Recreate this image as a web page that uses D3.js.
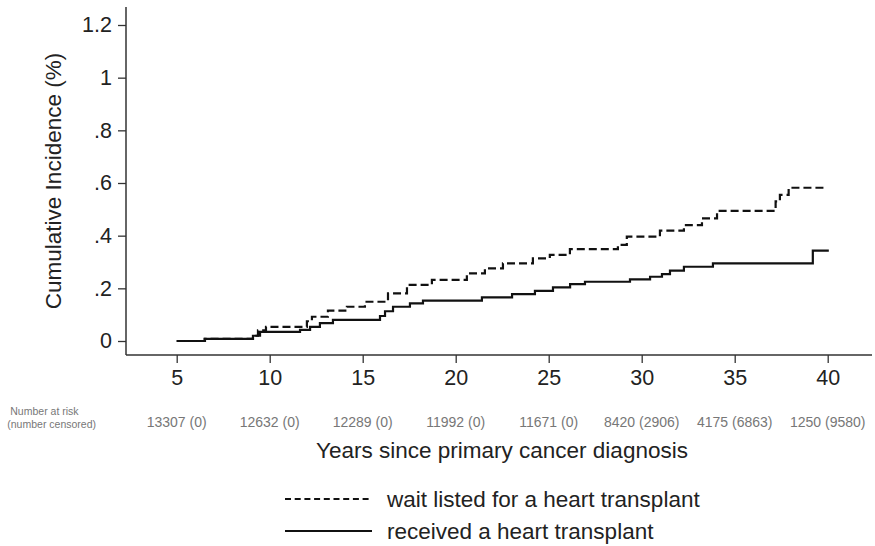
<!DOCTYPE html>
<html>
<head>
<meta charset="utf-8">
<script src="https://cdn.jsdelivr.net/npm/d3@7.9.0/dist/d3.min.js"></script>
<style>
  body { margin: 0; background: #fff; }
  svg { font-family: "Liberation Sans", Arial, sans-serif; display: block; }
</style>
</head>
<body>
<svg id="chart" width="875" height="546"></svg>
<script>
// step curves (years since diagnosis, cumulative incidence %)
const waitYears = [5, 6.5, 9.1, 9.37, 9.8, 12.0, 12.27, 13.13, 14.15, 15.12, 16.36, 17.38, 18.72, 20.6, 21.57, 22.54, 24.15, 25.06, 26.14, 28.72, 29.2, 30.98, 32.27, 33.24, 34.05, 37.2, 37.43, 37.9, 39.95];
const waitValues = [0, 0.008, 0.02, 0.04, 0.054, 0.075, 0.092, 0.115, 0.13, 0.149, 0.181, 0.213, 0.232, 0.257, 0.276, 0.295, 0.314, 0.327, 0.349, 0.365, 0.396, 0.419, 0.44, 0.466, 0.494, 0.53, 0.555, 0.582, 0.582];

const recvYears = [5, 6.52, 9.1, 9.48, 11.63, 12.17, 12.7, 13.4, 15.93, 16.2, 16.63, 17.54, 18.24, 21.41, 23.03, 24.26, 25.23, 26.15, 26.95, 29.37, 30.45, 31.09, 31.52, 32.27, 33.83, 39.2, 40.06];
const recvValues = [0, 0.008, 0.02, 0.035, 0.042, 0.054, 0.068, 0.08, 0.095, 0.113, 0.13, 0.143, 0.153, 0.166, 0.178, 0.19, 0.204, 0.216, 0.225, 0.234, 0.244, 0.254, 0.267, 0.282, 0.295, 0.343, 0.343];

// number at risk table
const riskYears = [5, 10, 15, 20, 25, 30, 35, 40];
const atRisk = [13307, 12632, 12289, 11992, 11671, 8420, 4175, 1250];
const censored = [0, 0, 0, 0, 0, 2906, 6863, 9580];

const xTicks = [5, 10, 15, 20, 25, 30, 35, 40];
const yTicks = [0, 0.2, 0.4, 0.6, 0.8, 1, 1.2];

const seriesNames = ["wait listed for a heart transplant", "received a heart transplant"];

const svg = d3.select("#chart");

const x = d3.scaleLinear().domain([5, 40]).range([176.7, 827.7]);
const y = d3.scaleLinear().domain([0, 1.2]).range([341, 25]);

const axisLeftX = 126, axisBottomY = 355;
const ink = "#333";

// y axis
const yAxis = svg.append("g")
    .attr("transform", `translate(${axisLeftX},0)`)
    .call(d3.axisLeft(y).tickValues(yTicks).tickSize(8).tickPadding(6)
        .tickFormat(d => d === 0 ? "0" : d === 1 ? "1" : d3.format(".1f")(d).replace(/^0/, "")));
yAxis.select(".domain").remove();
yAxis.selectAll("line").attr("stroke", ink).attr("stroke-width", 1.3);
yAxis.selectAll("text").attr("font-size", 21.5).attr("fill", "#222").attr("font-family", null);

// x axis
const xAxis = svg.append("g")
    .attr("transform", `translate(0,${axisBottomY})`)
    .call(d3.axisBottom(x).tickValues(xTicks).tickSize(8).tickPadding(7));
xAxis.select(".domain").remove();
xAxis.selectAll("line").attr("stroke", ink).attr("stroke-width", 1.3);
xAxis.selectAll("text").attr("font-size", 21.5).attr("fill", "#222").attr("font-family", null);

// axis lines
svg.append("line")
    .attr("x1", axisLeftX).attr("x2", axisLeftX)
    .attr("y1", 7).attr("y2", axisBottomY)
    .attr("stroke", ink).attr("stroke-width", 1.5);
svg.append("line")
    .attr("x1", axisLeftX).attr("x2", 872)
    .attr("y1", axisBottomY).attr("y2", axisBottomY)
    .attr("stroke", ink).attr("stroke-width", 1.5);

// curves
const line = d3.line()
    .x(d => x(d[0]))
    .y(d => y(d[1]))
    .curve(d3.curveStepAfter);

svg.append("path")
    .datum(d3.zip(recvYears, recvValues))
    .attr("d", line)
    .attr("fill", "none")
    .attr("stroke", "#111")
    .attr("stroke-width", 2.2);

svg.append("path")
    .datum(d3.zip(waitYears, waitValues))
    .attr("d", line)
    .attr("fill", "none")
    .attr("stroke", "#111")
    .attr("stroke-width", 2.2)
    .attr("stroke-dasharray", "8,4");

// y title
svg.append("text")
    .attr("transform", "translate(61,181) rotate(-90)")
    .attr("text-anchor", "middle")
    .attr("font-size", 22.5)
    .attr("fill", "#222")
    .text("Cumulative Incidence (%)");

// number at risk row
svg.append("g").selectAll("text")
    .data(riskYears)
    .join("text")
    .attr("x", d => x(d))
    .attr("y", 427)
    .attr("text-anchor", "middle")
    .attr("font-size", 14)
    .attr("fill", "#777")
    .text((d, i) => `${atRisk[i]} (${censored[i]})`);

// row label: kept inside the page, right edge where the reference puts it
const riskLabel = svg.append("g").attr("font-size", 10.5).attr("fill", "#777");
const l2 = riskLabel.append("text").attr("y", 428).text("(number censored)");
const w2 = l2.node().getComputedTextLength();
const labelX = Math.max(2, 96 - w2);
l2.attr("x", labelX);
riskLabel.append("text").attr("x", labelX + 3).attr("y", 415).text("Number at risk");

// x title
svg.append("text")
    .attr("x", 502)
    .attr("y", 458)
    .attr("text-anchor", "middle")
    .attr("font-size", 22.5)
    .attr("fill", "#222")
    .text("Years since primary cancer diagnosis");

// legend
const legend = svg.append("g");
const legendRows = [
    { name: seriesNames[0], dash: "6,3.7", y: 499 },
    { name: seriesNames[1], dash: null, y: 531 }
];
legendRows.forEach(r => {
    legend.append("line")
        .attr("x1", 285).attr("x2", 372)
        .attr("y1", r.y).attr("y2", r.y)
        .attr("stroke", "#111")
        .attr("stroke-width", 2)
        .attr("stroke-dasharray", r.dash);
    legend.append("text")
        .attr("x", 387)
        .attr("y", r.y + 8)
        .attr("font-size", 22.5)
        .attr("fill", "#222")
        .text(r.name);
});
</script>
</body>
</html>
